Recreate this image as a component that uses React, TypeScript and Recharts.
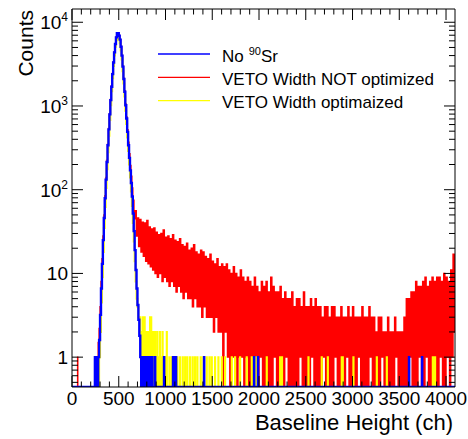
import React from "react";
import { ComposedChart, Legend, Line, XAxis, YAxis } from "recharts";

const W = 468;
const H = 439;
const FONT = "'Liberation Sans', Arial, Helvetica, sans-serif";

// axis ranges (ROOT style: 4096 channels, log counts)
const X_MAX = 4096;
const Y_MIN = 0.44;
const Y_MAX = 14400;

const X_MAJOR = [0, 500, 1000, 1500, 2000, 2500, 3000, 3500, 4000];
const X_MINOR_STEP = 100;
const Y_MAJOR = [1, 10, 100, 1000, 10000];
const Y_MAJOR_EXP = [0, 1, 2, 3, 4];
const Y_MINOR_MULT = [2, 3, 4, 5, 6, 7, 8, 9];

const BLUE = "#0000ff";
const RED = "#ff0000";
const YELLOW = "#ffff00";

const SERIES = [
  { name: "No", sup: "90", rest: "Sr", color: BLUE },
  { name: "VETO Width NOT optimized", sup: "", rest: "", color: RED },
  { name: "VETO Width optimaized", sup: "", rest: "", color: YELLOW },
];

// peak region, 10-channel bins
const PEAK_BIN = 10;

const BLUE_START = 280;
const BLUE_PEAK = [
  1, 1.6, 3.2, 6.6, 13, 25, 46, 79, 132, 214, 339, 525, 794, 1175, 1700, 2400,
  3300, 4370, 5500, 6600, 7400, 7400, 6900, 6200, 5100, 4000, 2950, 2100, 1480,
  1020, 710, 490, 340, 240, 170, 120, 83, 52, 32, 19, 11, 6.6, 4.2, 2.8, 1.8, 1,
];
// single-channel entries [channel, counts]
const BLUE_SPIKES: [number, number][] = [
  [245, 1], [255, 1], [265, 1], [272, 1],
  [742, 1], [752, 1], [762, 1], [772, 1], [782, 1], [792, 1], [802, 1], [812, 1],
  [822, 1], [832, 1], [858, 1], [888, 1], [984, 1], [1080, 1], [1091, 1],
  [1112, 1], [1412, 1], [1947, 1], [1989, 1], [3604, 1], [3743, 1],
];

const YELLOW_START = 290;
const YELLOW_PEAK = [
  1, 2, 4.5, 9, 18, 35, 62, 105, 175, 280, 440, 680, 1020, 1500, 2150, 3000,
  4000, 5100, 6100, 6800, 6800, 6300, 5600, 4600, 3600, 2600, 1850, 1300, 880,
  610, 420, 290, 200, 140, 95, 64, 40, 24, 14, 8, 5, 4, 3, 3, 2,
];
const YELLOW_SPIKES: [number, number][] = [
  [745, 2], [756, 3], [766, 2], [776, 3], [788, 2], [799, 2], [812, 1], [822, 2],
  [834, 3], [846, 3], [859, 2], [872, 2], [888, 2], [900, 1], [912, 2], [925, 1],
  [940, 2], [955, 1], [968, 2], [980, 1], [995, 1], [1013, 2], [1041, 1],
  [1066, 1], [1085, 1], [1102, 1], [1126, 1], [1155, 1], [1184, 1], [1209, 1],
  [1233, 1], [1262, 1], [1290, 1], [1315, 1], [1340, 1], [1376, 1], [1405, 1],
  [1440, 1], [1469, 1], [1494, 1], [1529, 1], [1565, 1], [1601, 1], [1636, 1],
  [1708, 1], [1743, 1], [1797, 1], [1868, 1], [1922, 1], [1960, 1], [1975, 1],
  [2082, 1], [2225, 1], [2245, 1], [2528, 1], [2670, 1], [2735, 1], [2884, 1],
  [2895, 1], [3009, 1], [3259, 1], [3366, 1], [3858, 1], [3870, 1], [3882, 1],
];

const RED_SPIKES: [number, number][] = [[60, 1]];
const RED_START = 260;
const RED_PEAK = [
  1, 1, 1.5, 2.2, 4, 8, 15, 28, 50, 85, 140, 225, 350, 540, 810, 1200, 1730,
  2450, 3350, 4420, 5550, 6650, 7450, 7450, 6950, 6250, 5150, 4050, 3000, 2150,
  1520, 1060, 740, 520, 370, 270, 195, 145, 105,
];

// noisy tail, 25-channel bins: max and min of the channel contents
const RED_TAIL_START = 650;
const RED_TAIL_BIN = 25;
const RED_TAIL_HI = [
  75, 56, 46, 44, 41, 40, 43, 36, 34, 35,
  31, 29, 30, 33, 27, 28, 26, 29, 25, 24,
  26, 22, 21, 23, 19, 20, 22, 18, 17, 19,
  18, 16, 15, 17, 14, 13, 15, 12, 13, 12,
  13, 11, 10, 12, 10, 9, 11, 9, 8, 9,
  8, 7, 9, 7, 6, 8, 7, 8, 6, 9,
  7, 6, 6, 7, 5, 6, 5, 5, 6, 4,
  5, 5, 4, 6, 4, 4, 5, 4, 5, 4,
  4, 3, 4, 4, 3, 4, 4, 3, 3, 4,
  3, 3, 4, 3, 4, 3, 3, 3, 4, 3,
  3, 4, 3, 3, 2, 3, 3, 2, 2, 3,
  2, 2, 3, 2, 2, 2, 3, 5, 5, 6,
  6, 8, 7, 7, 8, 9, 7, 8, 9, 8,
  9, 9, 8, 10, 9, 8, 11, 17,
];
const RED_TAIL_LO = [
  45, 28, 21, 18, 16, 14, 13, 12, 11, 10,
  9, 10, 8, 9, 8, 7, 8, 7, 6, 7,
  6, 5, 6, 5, 5, 4, 5, 4, 4, 3,
  4, 3, 3, 3, 2, 3, 2, 2, 0, 2,
  1, 0, 1, 1, 0, 1, 1, 0, 1, 0,
  0, 0, 0, 0, 1, 0, 0, 0, 0, 0,
  1, 0, 0, 0, 0, 1, 0, 0, 0, 0,
  0, 1, 0, 0, 0, 0, 1, 0, 0, 0,
  0, 1, 0, 0, 0, 0, 1, 0, 0, 0,
  0, 1, 0, 0, 0, 0, 1, 0, 0, 0,
  0, 1, 0, 0, 0, 0, 1, 0, 0, 0,
  0, 0, 1, 0, 0, 0, 0, 0, 1, 0,
  0, 0, 1, 0, 0, 1, 0, 0, 1, 0,
  0, 1, 0, 0, 1, 0, 1, 2,
];

const X_TICKS = Array.from({ length: 4000 / X_MINOR_STEP + 1 }, (_, i) => i * X_MINOR_STEP);
const Y_TICKS = [5, 6, 7, 8, 9]
  .map((m) => m / 10)
  .concat(
    Y_MAJOR.flatMap((d, i) => (i < Y_MAJOR.length - 1 ? [d, ...Y_MINOR_MULT.map((m) => m * d)] : [d]))
  );

const lv = (v: number) => (v > 0 ? v : Y_MIN);

type Pt = { x: number; y: number };

function histLine(start: number, peak: number[], spikes: [number, number][], extra: Pt[] = []) {
  const pts: Pt[] = [{ x: 0, y: Y_MIN }];
  peak.forEach((v, i) => pts.push({ x: start + i * PEAK_BIN, y: lv(v) }));
  if (!extra.length) pts.push({ x: start + peak.length * PEAK_BIN, y: Y_MIN });
  spikes.forEach(([c, n]) => {
    pts.push({ x: c, y: lv(n) });
    pts.push({ x: c + 2, y: Y_MIN });
  });
  pts.push(...extra);
  if (!extra.length) pts.push({ x: X_MAX, y: Y_MIN });
  return pts.sort((a, b) => a.x - b.x);
}

// tail drawn the way ROOT does: the line jumps between the high and low
// contents of each bin, so the noisy band fills in
function redTail(): Pt[] {
  const pts: Pt[] = [];
  RED_TAIL_HI.forEach((hi, i) => {
    const s = RED_TAIL_START + i * RED_TAIL_BIN;
    pts.push({ x: s, y: lv(hi) });
    pts.push({ x: s + RED_TAIL_BIN / 2, y: lv(RED_TAIL_LO[i]) });
  });
  pts.push({ x: X_MAX, y: lv(RED_TAIL_HI[RED_TAIL_HI.length - 1]) });
  return pts;
}

const blueData = histLine(BLUE_START, BLUE_PEAK, BLUE_SPIKES);
const yellowData = histLine(YELLOW_START, YELLOW_PEAK, YELLOW_SPIKES);
const redData = histLine(RED_START, RED_PEAK, RED_SPIKES, redTail());

const XTick = (props: any) => {
  const { x, y, payload, side } = props;
  const major = X_MAJOR.includes(payload.value);
  const len = major ? 11 : 5.5;
  const dir = side === "top" ? 1 : -1;
  return (
    <g>
      <line x1={x} x2={x} y1={y} y2={y + dir * len} stroke="#000" strokeWidth={1} />
      {major && side !== "top" && (
        <text x={x} y={y + 18} textAnchor="middle" fontSize={19} fill="#000" fontFamily={FONT}>
          {payload.value}
        </text>
      )}
    </g>
  );
};

const YTick = (props: any) => {
  const { x, y, payload, side } = props;
  const idx = Y_MAJOR.indexOf(payload.value);
  const major = idx >= 0;
  const len = major ? 11 : 6;
  const dir = side === "right" ? -1 : 1;
  const exp = major ? Y_MAJOR_EXP[idx] : 0;
  return (
    <g>
      <line x1={x} x2={x + dir * len} y1={y} y2={y} stroke="#000" strokeWidth={1} />
      {major && side !== "right" && (
        <text x={x - 4} y={y + 7} textAnchor="end" fontSize={19} fill="#000" fontFamily={FONT}>
          {exp === 0 ? "1" : exp === 1 ? "10" : (
            <>
              10
              <tspan fontSize={12} dy={-8}>{exp}</tspan>
            </>
          )}
        </text>
      )}
    </g>
  );
};

const LegendBox = () => (
  <svg width={270} height={75} style={{ overflow: "visible" }}>
    {SERIES.map((s, i) => {
      const ly = 14 + i * 23.3;
      return (
        <g key={s.name}>
          <line x1={8} x2={60} y1={ly} y2={ly} stroke={s.color} strokeWidth={1.3} />
          <text x={72} y={ly + 7.5} fontSize={17} fill="#000" fontFamily={FONT}>
            {s.name}
            {s.sup && (
              <>
                <tspan fontSize={11} dx={5} dy={-7}>{s.sup}</tspan>
                <tspan dy={7}>{s.rest}</tspan>
              </>
            )}
          </text>
        </g>
      );
    })}
  </svg>
);

export default function App() {
  return (
    <div style={{ position: "absolute", left: 0, top: 0, width: W, height: H, background: "#fff" }}>
      <ComposedChart
        width={W}
        height={H}
        margin={{ top: 8, right: 12, bottom: 51, left: 71 }}
        style={{ fontFamily: FONT }}
      >
        <XAxis
          xAxisId="b"
          type="number"
          dataKey="x"
          domain={[0, X_MAX]}
          allowDataOverflow
          ticks={X_TICKS}
          interval={0}
          height={1}
          tickSize={0}
          tickMargin={0}
          tickLine={false}
          axisLine={{ stroke: "#000" }}
          tick={(p: any) => <XTick {...p} side="bottom" />}
          label={{
            content: (p: any) => (
              <text
                x={p.viewBox.x + p.viewBox.width - 2}
                y={p.viewBox.y + 43}
                textAnchor="end"
                fontSize={22}
                fill="#000"
                fontFamily={FONT}
              >
                Baseline Height (ch)
              </text>
            ),
          }}
        />
        <XAxis
          xAxisId="t"
          orientation="top"
          type="number"
          dataKey="x"
          domain={[0, X_MAX]}
          allowDataOverflow
          ticks={X_TICKS}
          interval={0}
          height={1}
          tickSize={0}
          tickMargin={0}
          tickLine={false}
          axisLine={{ stroke: "#000" }}
          tick={(p: any) => <XTick {...p} side="top" />}
        />
        <YAxis
          yAxisId="l"
          scale="log"
          type="number"
          domain={[Y_MIN, Y_MAX]}
          allowDataOverflow
          ticks={Y_TICKS}
          interval={0}
          width={1}
          tickSize={0}
          tickMargin={0}
          tickLine={false}
          axisLine={{ stroke: "#000" }}
          tick={(p: any) => <YTick {...p} side="left" />}
          label={{
            content: (p: any) => (
              <text
                x={33}
                y={p.viewBox.y + 1}
                transform={`rotate(-90, 33, ${p.viewBox.y + 1})`}
                textAnchor="end"
                fontSize={21}
                fill="#000"
                fontFamily={FONT}
              >
                Counts
              </text>
            ),
          }}
        />
        <YAxis
          yAxisId="r"
          orientation="right"
          scale="log"
          type="number"
          domain={[Y_MIN, Y_MAX]}
          allowDataOverflow
          ticks={Y_TICKS}
          interval={0}
          width={1}
          tickSize={0}
          tickMargin={0}
          tickLine={false}
          axisLine={{ stroke: "#000" }}
          tick={(p: any) => <YTick {...p} side="right" />}
        />
        <Line
          xAxisId="b"
          yAxisId="l"
          data={redData}
          dataKey="y"
          type="stepAfter"
          stroke={RED}
          strokeWidth={1.4}
          dot={false}
          activeDot={false}
          isAnimationActive={false}
        />
        <Line
          xAxisId="b"
          yAxisId="l"
          data={yellowData}
          dataKey="y"
          type="stepAfter"
          stroke={YELLOW}
          strokeWidth={2}
          dot={false}
          activeDot={false}
          isAnimationActive={false}
        />
        <Line
          xAxisId="b"
          yAxisId="l"
          data={blueData}
          dataKey="y"
          type="stepAfter"
          stroke={BLUE}
          strokeWidth={2.4}
          dot={false}
          activeDot={false}
          isAnimationActive={false}
        />
        <Legend
          layout="vertical"
          align="center"
          verticalAlign="middle"
          wrapperStyle={{ left: 150, top: 40, width: 270, height: 75 }}
          content={() => <LegendBox />}
        />
      </ComposedChart>
    </div>
  );
}
